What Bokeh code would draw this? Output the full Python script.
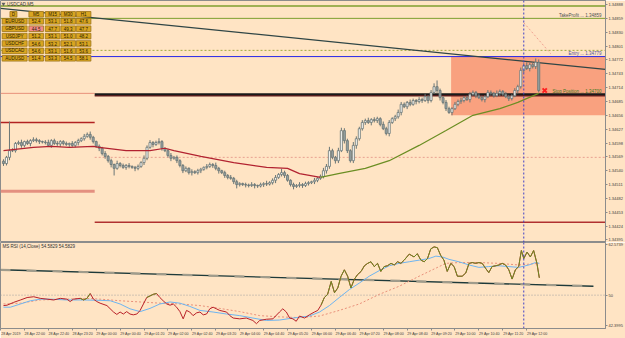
from bokeh.plotting import figure
from bokeh.layouts import column
from bokeh.models import Range1d, FixedTicker, Label, PrintfTickFormatter, CustomJSTickFormatter
from bokeh.core.properties import value
from bokeh.embed import file_html
from bokeh.resources import INLINE

# ---------------- data ----------------
chart_title = "USDCAD,M5"
rsi_caption = "MS RSI (14,Close) 54.5829 54.5829"
base_price = 1.34000
first_open_pts = 560          # price points (0.00001) above base_price
close_pts = [
    555, 568, 582, 582, 597, 599, 593, 601, 597, 603,
    605, 603, 601, 600, 599, 593, 603, 597, 596, 601,
    597, 595, 597, 593, 599, 603, 607, 612, 616, 610,
    601, 591, 587, 576, 570, 561, 553, 545, 555, 551,
    547, 551, 549, 547, 545, 549, 557, 566, 589, 599,
    595, 599, 601, 587, 582, 572, 566, 568, 561, 551,
    540, 545, 536, 538, 536, 540, 543, 547, 549, 553,
    551, 545, 540, 536, 530, 526, 524, 517, 511, 513,
    511, 510, 509, 511, 509, 508, 511, 513, 512, 515,
    520, 526, 532, 536, 530, 520, 511, 507, 509, 511,
    509, 513, 515, 517, 520, 524, 528, 540, 549, 582,
    568, 561, 582, 624, 603, 582, 561, 593, 607, 628,
    641, 645, 641, 647, 645, 649, 637, 628, 618, 641,
    649, 653, 662, 679, 674, 683, 679, 687, 685, 689,
    687, 695, 687, 704, 716, 708, 693, 683, 670, 662,
    670, 679, 685, 687, 693, 689, 700, 704, 697, 693,
    689, 695, 704, 702, 697, 702, 706, 700, 695, 691,
    697, 708, 716, 750, 760, 754, 762, 758, 767, 708]
upper_wick_pts = [
    4, 3, 61, 5, 3, 4, 6, 2, 4, 3, 5, 4, 3, 2, 4, 6, 3, 4, 5, 3,
    3, 4, 2, 5, 3, 4, 3, 5, 4, 6, 3, 2, 4, 3, 5, 3, 4, 2, 6, 3,
    4, 3, 5, 2, 3, 4, 3, 6, 4, 5, 3, 4, 7, 3, 2, 4, 5, 3, 4, 3,
    3, 4, 2, 5, 3, 4, 3, 2, 5, 4, 3, 6, 3, 2, 4, 3, 5, 3, 4, 3,
    2, 4, 3, 5, 3, 2, 4, 3, 6, 3, 4, 5, 3, 8, 4, 3, 2, 4, 3, 5,
    3, 4, 3, 2, 5, 3, 4, 6, 5, 8, 4, 3, 6, 6, 5, 4, 3, 7, 5, 4,
    5, 4, 6, 3, 5, 4, 3, 6, 4, 5, 3, 4, 6, 5, 4, 3, 6, 4, 3, 5,
    4, 6, 3, 5, 7, 13, 4, 3, 5, 4, 3, 5, 4, 6, 3, 4, 5, 4, 3, 5,
    4, 3, 5, 4, 3, 6, 4, 3, 5, 4, 3, 5, 4, 6, 5, 7, 4, 5, 8, 6]
lower_wick_pts = [
    5, 4, 6, 3, 4, 3, 5, 4, 3, 6, 3, 4, 5, 3, 4, 3, 5, 3, 4, 6,
    4, 3, 5, 3, 4, 6, 3, 4, 3, 5, 4, 3, 6, 4, 5, 4, 6, 15, 3, 4,
    3, 5, 4, 3, 6, 4, 3, 5, 4, 3, 6, 3, 4, 5, 3, 4, 6, 3, 5, 4,
    5, 3, 4, 6, 3, 4, 5, 3, 4, 3, 5, 4, 6, 3, 5, 4, 3, 5, 8, 4,
    3, 5, 4, 3, 6, 4, 3, 5, 4, 3, 4, 6, 3, 4, 5, 3, 4, 6, 3, 4,
    5, 3, 4, 3, 5, 4, 3, 4, 6, 5, 4, 6, 5, 3, 6, 5, 4, 5, 7, 4,
    4, 5, 3, 6, 4, 5, 4, 3, 4, 6, 3, 5, 4, 6, 3, 5, 4, 3, 6, 4,
    5, 3, 6, 4, 3, 5, 6, 4, 5, 3, 6, 3, 4, 5, 4, 3, 6, 4, 5, 3,
    4, 6, 3, 5, 4, 3, 6, 4, 3, 5, 4, 3, 6, 4, 5, 3, 6, 4, 5, 4]

ma_bars = [0, 10, 16, 22, 30, 32, 41, 49, 54, 57, 66, 77, 88, 95, 99, 106,
           112, 121, 129, 139, 148, 157, 166, 172, 179]
ma_pts = [582, 589, 591, 589, 591, 589, 582, 582, 587, 582, 570, 557, 547, 545,
          534, 526, 534, 545, 561, 593, 624, 656, 670, 683, 702]
ma_turn_bar = 106

# horizontal levels (prices)
level_upper = 1.34885
level_take_profit = 1.34859
level_dotted = 1.34792
level_entry = 1.34779
level_stop = 1.34700
level_stop_shadow = 1.34697
last_bid = 1.34708
zone_top, zone_bottom, zone_start_bar = 1.34779, 1.34656, 149.7
day_break_bar = 30.5
prev_day_levels = [1.34702, 1.34641, 1.34497]
today_levels = [1.34568, 1.34432]
trend_bars = [-1, 201.3]
trend_prices = [1.34880, 1.34752]
signal_bar, signal_price = 181, 1.34708
now_bar = 174
proj_bars, proj_prices = [174, 183], [1.34850, 1.34785]

price_ticks = [1.34888, 1.34859, 1.34830, 1.34801, 1.34772, 1.34743, 1.34714,
               1.34685, 1.34656, 1.34627, 1.34598, 1.34569, 1.34540, 1.34511,
               1.34482, 1.34453, 1.34424, 1.34395]

x_label_bars = [-1, 7, 15, 23, 31, 39, 47, 55, 63, 71, 79, 87, 95, 103, 111,
                119, 127, 135, 143, 151, 159, 167, 175]
x_labels = ["28 Apr 2019", "28 Apr 22:00", "28 Apr 22:40", "28 Apr 23:20",
            "29 Apr 00:00", "29 Apr 00:40", "29 Apr 01:20", "29 Apr 02:00",
            "29 Apr 02:40", "29 Apr 03:20", "29 Apr 04:00", "29 Apr 04:40",
            "29 Apr 05:20", "29 Apr 06:00", "29 Apr 06:40", "29 Apr 07:20",
            "29 Apr 08:00", "29 Apr 08:40", "29 Apr 09:20", "29 Apr 10:00",
            "29 Apr 10:40", "29 Apr 11:20", "29 Apr 12:00"]

# RSI sub-window
rsi_bars = [0, 1.2, 3.4, 5.7, 7.9, 10.1, 12.3, 14.6, 16.8, 19, 21.2, 22.3, 23.4,
            25.7, 26.8, 27.9, 29, 30.1, 31.2, 32.3, 34.6, 36.8, 37.9, 39, 40.1,
            41.2, 42.3, 43.4, 44.6, 45.7, 46.8, 47.9, 49, 50.1, 51.2, 52.3, 53.4,
            54.6, 55.7, 56.8, 57.9, 59, 60.1, 61.2, 62.3, 63.4, 64.6, 65.7, 66.8,
            67.9, 69, 70.1, 71.2, 72.3, 74.6, 75.7, 76.8, 79, 81.2, 83.4, 84.6,
            85.7, 87.9, 90.1, 92.3, 93.4, 94.6, 95.7, 96.8, 97.9, 99, 100.7, 102.3,
            104, 105.1, 106.2, 107.3, 108.4, 109.6, 110.7, 111.8, 112.9, 114,
            115.1, 116.2, 117.3, 118.4, 119.6, 120.7, 121.8, 122.9, 124, 125.1,
            126.2, 127.3, 128.4, 129.6, 130.7, 131.8, 132.9, 134, 135.7, 137.3,
            138.4, 139.6, 140.7, 141.8, 142.9, 144, 145.1, 146.2, 147.3, 148.4,
            149.6, 150.7, 151.8, 153.4, 154.6, 155.7, 156.8, 157.9, 159, 160.1,
            161.2, 162.3, 163.4, 164.6, 165.7, 166.8, 167.9, 169, 170.1, 171.2,
            172.3, 173.2, 174, 175.1, 176.2, 177.3, 178.4, 179.2]
rsi_vals = [47.4, 47.5, 48.2, 48.8, 49.4, 49.6, 49.2, 49.0, 48.8, 49.2, 49.0, 48.4,
            49.0, 49.2, 48.8, 49.2, 50.4, 49.0, 48.4, 48.0, 47.4, 45.8, 45.2, 45.8,
            45.3, 45.9, 45.3, 45.1, 45.3, 46.2, 47.8, 49.4, 49.8, 50.2, 50.4, 49.4,
            48.6, 47.8, 47.5, 47.8, 47.0, 45.9, 44.1, 46.2, 45.8, 44.9, 45.6, 45.8,
            45.1, 45.3, 46.6, 47.0, 46.6, 46.2, 45.8, 44.9, 44.3, 44.1, 44.3, 43.7,
            42.9, 43.7, 44.0, 44.1, 45.8, 46.6, 45.8, 44.3, 44.1, 43.5, 44.8, 44.3,
            45.1, 45.8, 46.2, 47.5, 49.4, 50.2, 53.4, 50.6, 51.8, 54.7, 56.3, 54.7,
            51.8, 53.9, 55.1, 55.9, 57.3, 57.9, 58.3, 57.1, 57.9, 55.9, 57.1, 57.3,
            57.9, 57.5, 58.3, 57.9, 58.7, 60.2, 59.5, 60.3, 58.7, 58.3, 59.1, 61.5,
            62.0, 61.8, 59.9, 58.7, 55.9, 57.9, 57.1, 54.7, 54.7, 55.5, 57.9, 58.1,
            57.9, 58.1, 57.9, 56.7, 55.6, 57.1, 57.3, 57.5, 57.9, 57.5, 56.3, 54.0,
            56.3, 57.1, 61.1, 59.1, 60.7, 59.5, 61.1, 57.9, 54.3]
rsi_green_spans = [(25.7, 29.0), (47.9, 51.2), (106.2, 179.2)]
signal_bars = [0, 2.3, 5.7, 9, 12.3, 15.7, 21.2, 26.8, 32.3, 35.7, 39, 42.3, 45.7,
               49, 52.3, 55.7, 59, 62.3, 65.7, 70.1, 74.6, 79, 83.4, 87.9, 92.3,
               96.8, 99, 102.3, 105.7, 109, 112.3, 115.7, 119, 122.3, 125.7, 129,
               132.3, 135.7, 139, 142.3, 144.6, 146.8, 149, 152.3, 155.7, 159,
               162.3, 165.7, 169, 172.3, 175.7, 177.9, 179.2]
signal_vals = [47.0, 47.0, 47.8, 48.6, 49.0, 49.0, 48.8, 48.8, 48.7, 48.6, 47.8,
               46.6, 45.9, 46.7, 47.8, 48.3, 48.0, 47.2, 46.2, 45.8, 45.3, 44.9,
               44.3, 43.7, 43.8, 44.3, 44.5, 44.8, 45.8, 47.4, 49.4, 51.4, 53.0,
               54.7, 56.1, 57.3, 57.9, 58.3, 58.7, 59.1, 59.7, 59.5, 58.9, 58.3,
               57.5, 56.9, 57.1, 57.3, 57.1, 56.9, 57.5, 58.1, 57.9]
slow_bars = [0, 5.7, 12.3, 21.2, 27.9, 32.3, 39, 45.7, 52.3, 59, 65.7, 72.3, 79,
             85.7, 92.3, 99, 105.7, 112.3, 119, 125.7, 132.3, 139, 145.7, 147.9,
             152.3, 159, 165.7, 172.3, 179]
slow_vals = [47.8, 48.0, 48.8, 49.0, 49.2, 49.0, 48.6, 48.3, 48.0, 47.8, 47.4,
             46.7, 45.9, 44.9, 44.6, 44.4, 44.8, 46.2, 47.8, 50.2, 52.2, 54.7,
             57.1, 57.9, 58.1, 58.1, 57.9, 57.5, 57.9]
rsi_mid = 50
rsi_trend_bars = [-1, 197.3]
rsi_trend_vals = [56.3, 52.2]
rsi_ticks = [62.5739, 50, 42.3995]

# multi-timeframe RSI table
table_symbols = ["EURUSD", "GBPUSD", "USDJPY", "USDCHF", "USDCAD", "AUDUSD"]
table_frames = ["M5", "M15", "M30", "H1"]
table_values = [[52.4, 53.1, 51.8, 47.6],
                [44.5, 47.7, 49.3, 47.7],
                [51.2, 53.1, 51.0, 48.2],
                [54.6, 53.2, 52.1, 53.1],
                [54.6, 53.1, 51.6, 53.6],
                [51.4, 53.3, 54.5, 58.1]]
table_low_threshold = 45

# ---------------- layout / style ----------------
BG = "#FFE4C4"
FONT = "Liberation Sans"
W, MAIN_H, RSI_H, RIGHT, RSI_BOTTOM = 625, 242, 96, 18, 8
PPB = 3.0
X_START = -1.0
X_END = X_START + (W - RIGHT) / PPB
Y_TOP, Y_BOT = 1.348964, 1.343897
R_TOP, R_BOT = 63.09, 41.70
RSI_FRAME_H = RSI_H - RSI_BOTTOM
AX_COL = "#8c8c8c"
LBL_COL = "#3c3c3c"


def pts(v):
    return base_price + v / 100000.0


def mx(px):
    return X_START + px / PPB


def my(py):
    return Y_TOP - py * (Y_TOP - Y_BOT) / MAIN_H


def mh(h):
    return h * (Y_TOP - Y_BOT) / MAIN_H


def ry(py):
    return R_TOP - py * (R_TOP - R_BOT) / RSI_FRAME_H


def style_y_axis(ax):
    ax.major_label_text_font_size = "4px"
    ax.major_label_text_font = FONT
    ax.major_label_text_color = LBL_COL
    ax.axis_line_color = AX_COL
    ax.major_tick_line_color = AX_COL
    ax.major_tick_out = 2
    ax.major_tick_in = 0
    ax.minor_tick_line_color = None
    ax.major_label_standoff = 1


x_range = Range1d(X_START, X_END)

p = figure(width=W, height=MAIN_H, x_range=x_range, y_range=Range1d(Y_BOT, Y_TOP),
           output_backend="svg", toolbar_location=None, x_axis_location=None,
           y_axis_location="right", background_fill_color=BG, border_fill_color=BG,
           min_border_left=0, min_border_top=0, min_border_bottom=0,
           min_border_right=RIGHT)
p.grid.visible = False
p.outline_line_color = AX_COL
yax = p.yaxis[0]
yax.ticker = FixedTicker(ticks=price_ticks)
yax.formatter = PrintfTickFormatter(format="%.5f")
style_y_axis(yax)

# trade zone
p.quad(left=[zone_start_bar], right=[X_END + 2], top=[zone_top], bottom=[zone_bottom],
       fill_color="#F9A17F", line_color=None)

# horizontal levels
p.segment(x0=[X_START], x1=[X_END], y0=[level_upper], y1=[level_upper],
          line_color="#7F9F2F", line_width=1.6)
p.segment(x0=[X_START], x1=[X_END], y0=[level_take_profit], y1=[level_take_profit],
          line_color="#7F9F2F", line_width=1)
p.segment(x0=[X_START], x1=[X_END], y0=[level_dotted], y1=[level_dotted],
          line_color="#A0AA40", line_width=1, line_dash="2 2")
p.segment(x0=[X_START], x1=[X_END], y0=[level_entry], y1=[level_entry],
          line_color="#2828E8", line_width=1)
p.segment(x0=[X_START, X_START, X_START], x1=[day_break_bar] * 3,
          y0=prev_day_levels, y1=prev_day_levels,
          line_color=["#E8907A", "#B22222", "#E49080"], line_width=[1, 1.5, 3])
p.segment(x0=[day_break_bar], x1=[X_END], y0=[today_levels[0]], y1=[today_levels[0]],
          line_color="#E8A090", line_width=1, line_dash="2 2")
p.segment(x0=[day_break_bar], x1=[X_END], y0=[today_levels[1]], y1=[today_levels[1]],
          line_color="#B03030", line_width=1.5)
p.segment(x0=[day_break_bar], x1=[X_END], y0=[level_stop_shadow], y1=[level_stop_shadow],
          line_color="#6A2020", line_width=1.5)
p.segment(x0=[day_break_bar], x1=[X_END], y0=[level_stop], y1=[level_stop],
          line_color="#1A1A1A", line_width=2)

# long trend line
p.line(trend_bars, trend_prices, line_color="#2F4545", line_width=1.3)

# candles
n = len(close_pts)
bars = list(range(n))
closes = [pts(c) for c in close_pts]
opens = [pts(first_open_pts)] + closes[:-1]
tops = [max(o, c) for o, c in zip(opens, closes)]
bottoms = [min(o, c) for o, c in zip(opens, closes)]
highs = [t + u / 100000.0 for t, u in zip(tops, upper_wick_pts)]
lows = [b - w / 100000.0 for b, w in zip(bottoms, lower_wick_pts)]
fills = ["#F6F6F2" if c >= o else "#95A0A0" for o, c in zip(opens, closes)]
p.segment(x0=bars, x1=bars, y0=highs, y1=lows, line_color="#6A7676", line_width=1)
p.vbar(x=bars, width=0.7, top=tops, bottom=bottoms, fill_color=fills,
       line_color="#6A7676", line_width=0.8)

# moving average (red while falling, green after the turn)
ma_prices = [pts(v) for v in ma_pts]
red_x = [b for b in ma_bars if b <= ma_turn_bar]
red_y = [v for b, v in zip(ma_bars, ma_prices) if b <= ma_turn_bar]
grn_x = [b for b in ma_bars if b >= ma_turn_bar]
grn_y = [v for b, v in zip(ma_bars, ma_prices) if b >= ma_turn_bar]
p.line(red_x, red_y, line_color="#B22230", line_width=1.2)
p.line(grn_x, grn_y, line_color="#6B8E23", line_width=1.2)

# projection, signal and current-time marker
p.line(proj_bars, proj_prices, line_color="#F0A090", line_width=1, line_dash="2 2")
p.scatter(x=[signal_bar], y=[signal_price], marker="x", size=6,
          line_color="#FF2020", line_width=2)
p.segment(x0=[now_bar], x1=[now_bar], y0=[Y_BOT], y1=[Y_TOP],
          line_color="#4040C8", line_width=1, line_dash="2 2")

# level captions
cap_x = mx(603)
p.text(x=[cap_x] * 3, y=[level_take_profit, level_entry, level_stop],
       text=["TakeProfit ... %.5f" % level_take_profit,
             "Entry ... %.5f" % level_entry,
             "Stop Position ... %.5f" % level_stop],
       text_font=value(FONT), text_font_size="4.5px", text_align="right",
       text_baseline="bottom", y_offset=-0.5,
       text_color=["#505050", "#5050A0", "#3A7A20"])

# price boxes on the axis
for pr, col in [(level_take_profit, "#2E8B2E"), (level_entry, "#2030F0"),
                (last_bid, "#2F5050"), (level_stop, "#E02828")]:
    p.add_layout(Label(x=X_END, y=pr, x_offset=1, text="%.5f" % pr,
                       text_font=FONT, text_font_size="4px", text_color="white",
                       background_fill_color=col, text_baseline="middle",
                       text_align="left"))

# title and multi-timeframe table
p.scatter(x=[mx(3)], y=[my(3.5)], marker="inverted_triangle", size=4,
          fill_color="#606060", line_color=None)
p.text(x=[mx(6.5)], y=[my(3.5)], text=[chart_title], text_font=value(FONT),
       text_font_size="4.5px", text_align="left", text_baseline="middle",
       text_color="#303030")

col_cx = [35.8, 52.2, 67.9, 83.4]
col_w, sym_cx, sym_w, box_h = 14.6, 14.2, 25.0, 5.6
head_cy, row_cy0, row_pitch = 13.8, 20.8, 7.4
GOLD, GOLD_LINE, PINK, TXT = "#D9A521", "#9C7418", "#F28A8A", "#2B2000"

bx, by, bw, bh, bf, tx, ty, tt = [], [], [], [], [], [], [], []
# header
bx.append(mx(13)); by.append(my(head_cy)); bw.append(7 / PPB); bh.append(mh(box_h))
bf.append(GOLD); tx.append(mx(13)); ty.append(my(head_cy)); tt.append("D")
for j, tf in enumerate(table_frames):
    bx.append(mx(col_cx[j])); by.append(my(head_cy)); bw.append(col_w / PPB)
    bh.append(mh(box_h)); bf.append(GOLD)
    tx.append(mx(col_cx[j])); ty.append(my(head_cy)); tt.append(tf)
for i, sym in enumerate(table_symbols):
    cy = row_cy0 + row_pitch * i
    bx.append(mx(sym_cx)); by.append(my(cy)); bw.append(sym_w / PPB)
    bh.append(mh(box_h)); bf.append(GOLD)
    tx.append(mx(sym_cx)); ty.append(my(cy)); tt.append(sym)
    for j, v in enumerate(table_values[i]):
        bx.append(mx(col_cx[j])); by.append(my(cy)); bw.append(col_w / PPB)
        bh.append(mh(box_h)); bf.append(PINK if v < table_low_threshold else GOLD)
        tx.append(mx(col_cx[j])); ty.append(my(cy)); tt.append("%.1f" % v)
p.rect(x=bx, y=by, width=bw, height=bh, fill_color=bf, line_color=GOLD_LINE,
       line_width=0.8)
p.text(x=tx, y=ty, text=tt, text_font=value(FONT), text_font_size="4.5px",
       text_align="center", text_baseline="middle", text_color=TXT)

# ---------------- RSI window ----------------
r = figure(width=W, height=RSI_H, x_range=x_range, y_range=Range1d(R_BOT, R_TOP),
           output_backend="svg", toolbar_location=None, y_axis_location="right",
           background_fill_color=BG, border_fill_color=BG, min_border_left=0,
           min_border_top=0, min_border_bottom=RSI_BOTTOM, min_border_right=RIGHT)
r.grid.visible = False
r.outline_line_color = AX_COL
ryax = r.yaxis[0]
ryax.ticker = FixedTicker(ticks=rsi_ticks)
ryax.formatter = CustomJSTickFormatter(
    code="return (Math.abs(tick - Math.round(tick)) < 1e-9) ? String(Math.round(tick)) : tick.toFixed(4);")
style_y_axis(ryax)

xax = r.xaxis[0]
label_centres = [b + 3.5 for b in x_label_bars]
xax.ticker = FixedTicker(ticks=label_centres, minor_ticks=x_label_bars)
xax.formatter = CustomJSTickFormatter(
    args=dict(centres=label_centres, names=x_labels),
    code="""let best = 0;
for (let j = 0; j < centres.length; j++) {
  if (Math.abs(centres[j] - tick) < Math.abs(centres[best] - tick)) best = j;
}
return names[best];""")
xax.major_label_text_font_size = "3.6px"
xax.major_label_text_font = FONT
xax.major_label_text_color = LBL_COL
xax.axis_line_color = AX_COL
xax.major_tick_line_color = None
xax.major_tick_out = 0
xax.major_tick_in = 0
xax.minor_tick_line_color = AX_COL
xax.minor_tick_out = 2
xax.minor_tick_in = 0
xax.major_label_standoff = 1

r.segment(x0=[X_START], x1=[X_END], y0=[rsi_mid], y1=[rsi_mid],
          line_color="#A0A0A0", line_width=1, line_dash="1 2")
r.line(rsi_trend_bars, rsi_trend_vals, line_color="#1E3A3A", line_width=1.4)
r.line(rsi_trend_bars, rsi_trend_vals, line_color="#A09C8C", line_width=2.2,
       line_dash="10 16")
r.line(slow_bars, slow_vals, line_color="#E8907A", line_width=1, line_dash="2 2")
r.line(signal_bars, signal_vals, line_color="#6EB4F0", line_width=1)
r.line(rsi_bars, rsi_vals, line_color="#B82028", line_width=1)
for a, b in rsi_green_spans:
    gx = [x for x in rsi_bars if a <= x <= b]
    gy = [v for x, v in zip(rsi_bars, rsi_vals) if a <= x <= b]
    r.line(gx, gy, line_color="#6B8E23", line_width=1)
r.segment(x0=[now_bar], x1=[now_bar], y0=[R_BOT], y1=[R_TOP],
          line_color="#4040C8", line_width=1, line_dash="2 2")
r.text(x=[mx(2)], y=[ry(4)], text=[rsi_caption], text_font=value(FONT),
       text_font_size="4.5px", text_align="left", text_baseline="middle",
       text_color="#303030")

layout = column(p, r)
open("out.html", "w").write(file_html(layout, INLINE))
